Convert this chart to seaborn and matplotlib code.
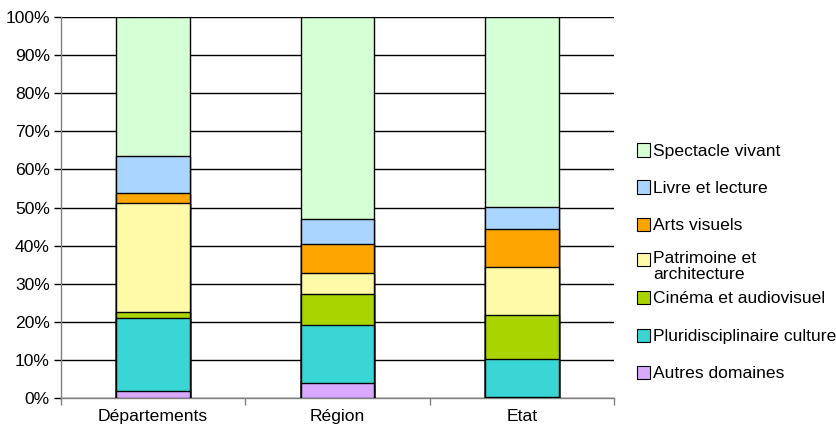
import matplotlib
matplotlib.use("Agg")
import matplotlib.pyplot as plt
import matplotlib.patches as mpatches
from matplotlib.ticker import FixedLocator
import seaborn as sns
import pandas as pd
import numpy as np

categories = ["Départements", "Région", "Etat"]
series_names = ["Autres domaines", "Pluridisciplinaire culture", "Cinéma et audiovisuel",
                "Patrimoine et\narchitecture", "Arts visuels", "Livre et lecture", "Spectacle vivant"]
autres = [1.9, 3.9, 0.3]
pluri = [19.1, 15.3, 10.0]
cinema = [1.6, 8.2, 11.5]
patrimoine = [28.7, 5.4, 12.7]
arts = [2.4, 7.7, 9.9]
livre = [9.8, 6.6, 5.7]
spectacle = [36.5, 52.9, 49.9]
colors = ["#D7AAFF", "#3AD5D5", "#A9D400", "#FFFAA8", "#FFA500", "#AAD5FF", "#D5FFD5"]

sns.set_theme(style="white")
plt.rcParams['font.family'] = ['Liberation Sans', 'DejaVu Sans']
FS = 12.6

W, H = 836, 434
fig = plt.figure(figsize=(W / 100, H / 100), dpi=100)
ax = fig.add_axes([61 / W, 1 - 398 / H, (614 - 61) / W, (398 - 17) / H])

series = [autres, pluri, cinema, patrimoine, arts, livre, spectacle]
cum = np.cumsum(np.array(series), axis=0)
df = pd.DataFrame({"cat": categories})
for i in range(len(series) - 1, -1, -1):
    df["v"] = cum[i] / 100.0
    sns.barplot(data=df, x="cat", y="v", color=colors[i], saturation=1, width=0.4,
                edgecolor="black", linewidth=1.0, ax=ax, zorder=3)

ticks = np.arange(0, 1.01, 0.1)
ax.set_ylim(0, 1)
ax.set_xlim(-0.5, 2.5)
ax.set_yticks(ticks)
ax.set_yticklabels([f"{int(round(v * 100))}%" for v in ticks], fontsize=FS)
ax.set_xticks([0, 1, 2])
ax.set_xticklabels(categories, fontsize=FS)
ax.xaxis.set_minor_locator(FixedLocator([-0.5, 0.5, 1.5, 2.5]))
ax.tick_params(axis="x", which="major", length=0, pad=8, colors="black")
ax.tick_params(axis="x", which="minor", length=5, width=1, color="#808080", bottom=True)
ax.tick_params(axis="y", length=5, width=1, color="black", left=True, pad=3, labelcolor="black")
ax.set_xlabel("")
ax.set_ylabel("")
ax.yaxis.grid(True, color="black", linewidth=1, zorder=0)
ax.set_axisbelow(True)
for s in ["top", "right"]:
    ax.spines[s].set_visible(False)
for s in ["left", "bottom"]:
    ax.spines[s].set_color("#808080")
    ax.spines[s].set_linewidth(1)

# legend, drawn entry by entry (top entry = last series)
legend_y = [150, 187, 224, 259, 297, 335, 372]
order = list(range(len(series) - 1, -1, -1))
for yc, i in zip(legend_y, order):
    fig.patches.append(mpatches.Rectangle((637 / W, 1 - (yc + 6.5) / H), 13 / W, 13 / H,
                                          facecolor=colors[i], edgecolor="black", linewidth=0.8,
                                          transform=fig.transFigure, figure=fig))
    if "\n" in series_names[i]:
        fig.text(653 / W, 1 - (yc - 8) / H, series_names[i], fontsize=FS, va="top", ha="left",
                 linespacing=1.12, color="black")
    else:
        fig.text(653 / W, 1 - yc / H, series_names[i], fontsize=FS, va="center_baseline",
                 ha="left", color="black")

fig.savefig("out.png", dpi=100)
